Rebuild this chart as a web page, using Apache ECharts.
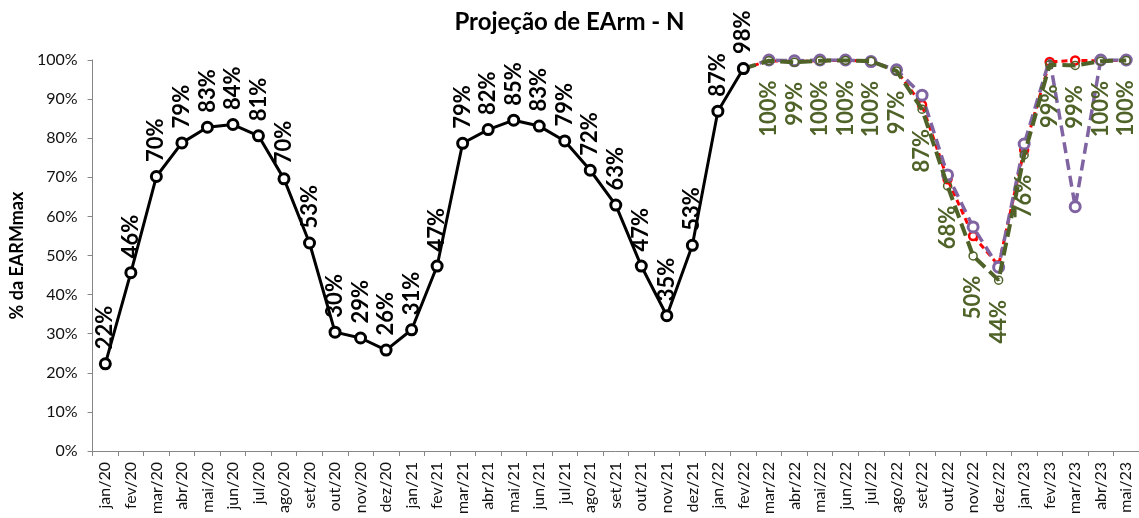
<!DOCTYPE html>
<html>
<head>
<meta charset="utf-8">
<script src="https://cdn.jsdelivr.net/npm/echarts@6/dist/echarts.min.js"></script>
<style>html,body{margin:0;padding:0;background:#fff}#c{width:1139px;height:518px}</style>
</head>
<body>
<div id="c"></div>
<script>
const categories = ['jan/20','fev/20','mar/20','abr/20','mai/20','jun/20','jul/20','ago/20','set/20','out/20','nov/20','dez/20',
  'jan/21','fev/21','mar/21','abr/21','mai/21','jun/21','jul/21','ago/21','set/21','out/21','nov/21','dez/21',
  'jan/22','fev/22','mar/22','abr/22','mai/22','jun/22','jul/22','ago/22','set/22','out/22','nov/22','dez/22',
  'jan/23','fev/23','mar/23','abr/23','mai/23'];
const yTicks = [0,10,20,30,40,50,60,70,80,90,100];
// historical (black), Jan/20 - Fev/22
const historico = [22.3,45.6,70.2,78.8,82.8,83.5,80.6,69.6,53.2,30.4,28.9,25.8,
  31.0,47.3,78.7,82.2,84.6,83.1,79.3,71.8,62.9,47.3,34.6,52.6,86.9,97.8];
// projections, Fev/22 - Mai/23
const projVerde = [97.8,99.8,99.4,99.8,99.9,99.7,97.2,87.4,67.8,49.9,43.7,75.7,98.8,98.6,99.7,99.9];
const projVermelho = [97.8,99.8,99.6,99.8,99.9,99.7,97.3,88.5,69.5,55.0,47.5,77.0,99.5,99.9,99.8,99.9];
const projRoxo = [97.8,100,99.8,100,100,99.6,97.5,91.0,70.6,57.3,47.0,78.5,100.2,62.5,100,100];

const pad = v => Array(25).fill(null).concat(v);
const pct = p => Math.round(p.value) + '%';
const FONT = 'Lato';

const chart = echarts.init(document.getElementById('c'));
chart.setOption({
  animation: false,
  backgroundColor: '#fff',
  title: {
    text: 'Projeção de EArm - N', left: 'center', top: 5,
    textStyle: {fontFamily: FONT, fontSize: 24, fontWeight: 'bold', color: '#000'}
  },
  grid: {left: 90, right: -2, top: 60, bottom: 67, containLabel: false},
  xAxis: {
    type: 'category', data: categories, boundaryGap: true,
    axisLine: {lineStyle: {color: '#868686', width: 1}},
    axisTick: {show: true, alignWithLabel: false, length: 5, lineStyle: {color: '#868686'}},
    axisLabel: {rotate: 90, interval: 0, margin: 11, fontFamily: FONT, fontSize: 16, color: '#111'}
  },
  yAxis: {
    type: 'value', min: 0, max: 100, interval: 10,
    name: '% da EARMmax', nameLocation: 'middle', nameGap: 66, nameRotate: 90,
    nameTextStyle: {fontFamily: FONT, fontSize: 18, fontWeight: 'bold', color: '#000'},
    axisLine: {show: true, lineStyle: {color: '#868686'}},
    axisTick: {show: true, length: 5, lineStyle: {color: '#868686'}},
    splitLine: {show: false},
    axisLabel: {formatter: v => yTicks.includes(v) ? v + '%' : '', margin: 15, fontFamily: FONT, fontSize: 16, color: '#111'}
  },
  series: [
    {
      type: 'line', data: historico, z: 5,
      lineStyle: {color: '#000', width: 3},
      symbol: 'circle', symbolSize: 10,
      itemStyle: {color: '#fff', borderColor: '#000', borderWidth: 3},
      label: {show: true, position: 'top', distance: 8, rotate: 90, align: 'left', verticalAlign: 'middle',
        formatter: pct, fontFamily: FONT, fontSize: 22, fontWeight: 'bold', color: '#000'}
    },
    {
      type: 'line', data: pad(projVermelho), z: 2,
      lineStyle: {color: '#ff0000', width: 3, type: [6, 4]},
      symbol: 'circle', symbolSize: 8,
      itemStyle: {color: '#fff', borderColor: '#ff0000', borderWidth: 2.5}
    },
    {
      type: 'line', data: pad(projRoxo), z: 3,
      lineStyle: {color: '#8064a2', width: 3.5, type: [11, 6]},
      symbol: 'circle', symbolSize: 10,
      itemStyle: {color: '#fff', borderColor: '#8064a2', borderWidth: 3}
    },
    {
      type: 'line', data: pad(projVerde), z: 4,
      lineStyle: {color: '#4f6228', width: 4, type: [13, 6]},
      symbol: 'circle', symbolSize: 8,
      itemStyle: {color: 'rgba(255,255,255,0)', borderColor: '#4f6228', borderWidth: 1.5},
      label: {show: true, position: 'bottom', distance: 15, rotate: 90, align: 'right', verticalAlign: 'middle',
        formatter: p => p.dataIndex === 25 ? '' : pct(p), fontFamily: FONT, fontSize: 22, fontWeight: 'bold', color: '#4f6228'}
    }
  ]
});
</script>
</body>
</html>
